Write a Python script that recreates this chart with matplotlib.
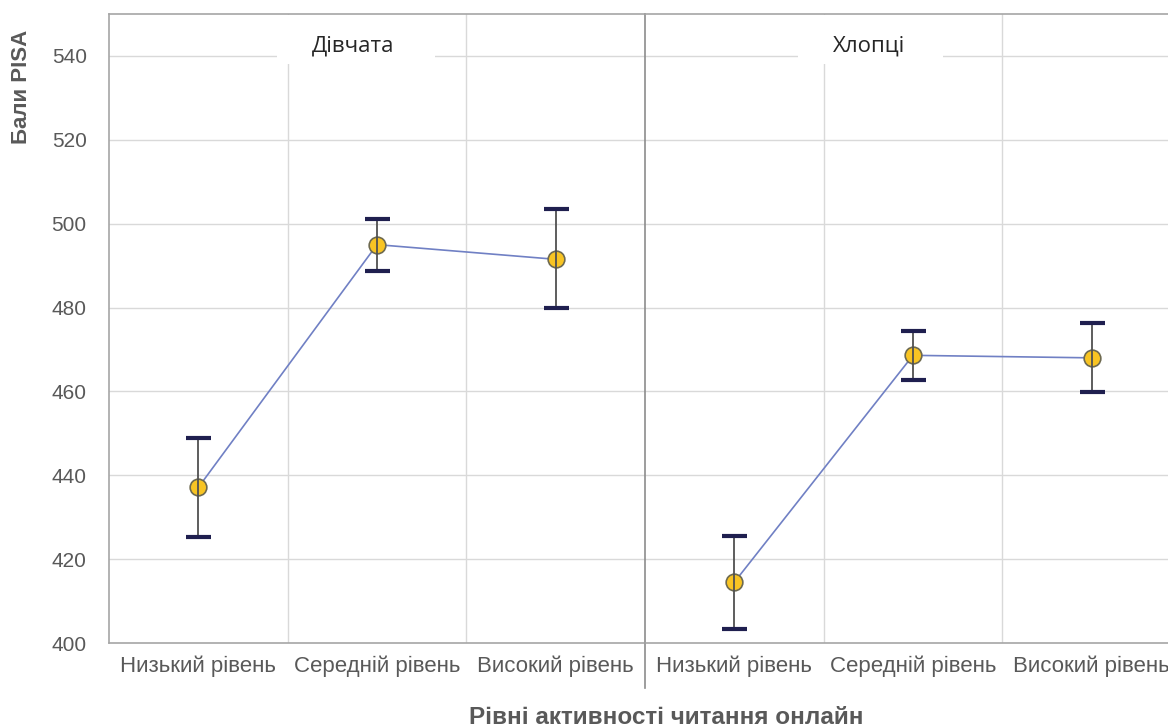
"""
PISA scores by level of online reading activity, girls vs boys
"""

import matplotlib.pyplot as plt
from matplotlib.patches import Rectangle

# Data
levels = ['Низький рівень', 'Середній рівень', 'Високий рівень']
groups = ['Дівчата', 'Хлопці']
girls_mean = [437.1, 495.0, 491.5]
girls_low = [425.2, 488.6, 480.0]
girls_high = [449.0, 501.2, 503.6]
boys_mean = [414.5, 468.6, 468.0]
boys_low = [403.4, 462.6, 459.9]
boys_high = [425.5, 474.5, 476.2]

GRID = '#d9d9d9'
SPINE = '#a6a6a6'
TEXT = '#595959'
LINE = '#7080c4'
GOLD = '#f8c423'
CAP = '#1f1f4f'

plt.rcParams['font.family'] = ['Liberation Sans', 'DejaVu Sans']

fig = plt.figure(figsize=(11.68, 7.28), dpi=100)
W, H = 1168, 728
left, right, top, bottom = 109, 1181, 14, 643
pw = (right - left) / 2
ax1 = fig.add_axes([left / W, (H - bottom) / H, pw / W, (bottom - top) / H])
ax2 = fig.add_axes([(left + pw) / W, (H - bottom) / H, pw / W, (bottom - top) / H])

# (axes, title, means, lower, upper, title x, box left, box right)
panels = [
    (ax1, groups[0], girls_mean, girls_low, girls_high, 0.866, 0.44, 1.325),
    (ax2, groups[1], boys_mean, boys_low, boys_high, 0.754, 0.356, 1.168),
]

for ax, title, mean, lo, hi, tx, bx0, bx1 in panels:
    x = list(range(len(levels)))
    ax.set_xlim(-0.5, 2.5)
    ax.set_ylim(400, 550)
    ax.set_yticks(range(400, 541, 20))
    ax.set_xticks(x)
    ax.set_xticklabels(levels, fontsize=16, color=TEXT)
    ax.tick_params(axis='both', length=0, labelcolor=TEXT)
    ax.tick_params(axis='x', pad=9, labelsize=16)
    ax.tick_params(axis='y', pad=16, labelsize=15)

    # grid: horizontal at ticks, vertical between categories
    for yv in range(420, 541, 20):
        ax.axhline(yv, color=GRID, lw=1, zorder=0)
    for xv in [0.5, 1.5]:
        ax.axvline(xv, color=GRID, lw=1, zorder=0)

    ax.spines['right'].set_visible(False)
    for s in ['left', 'top', 'bottom']:
        ax.spines[s].set_color(SPINE)
        ax.spines[s].set_linewidth(1.2)

    ax.plot(x, mean, color=LINE, lw=1.2, zorder=2)
    ax.plot(x, mean, 'o', ms=12, mfc=GOLD, mec='#6e6a50', mew=1.2, zorder=3)
    yerr = [[m - l for m, l in zip(mean, lo)], [h - m for m, h in zip(mean, hi)]]
    eb = ax.errorbar(x, mean, yerr=yerr, fmt='none', ecolor='#505050',
                     elinewidth=1.3, capsize=9, capthick=3, zorder=4)
    for cap in eb[1]:
        cap.set_markeredgecolor(CAP)

    # panel title in a white box
    ax.add_patch(Rectangle((bx0, 538.0), bx1 - bx0, 11.8, facecolor='white',
                           edgecolor='none', zorder=1))
    ax.text(tx, 542.4, title, ha='center', va='center', fontsize=16,
            color='#262626', family=['Open Sans', 'DejaVu Sans'], zorder=5)

ax2.set_yticklabels([])
ax2.spines['left'].set_color('#8c8c8c')
# divider between panels reaches below the axis
ax2.plot([0, 0], [0, -0.072], transform=ax2.transAxes, color='#8c8c8c',
         lw=1.2, clip_on=False)

fig.text(22 / W, 1 - 87 / H, 'Бали PISA', rotation=90, ha='center', va='center',
         fontsize=16, fontweight='bold', color=TEXT)
fig.text(666 / W, 1 - 717 / H, 'Рівні активності читання онлайн', ha='center',
         va='center', fontsize=17.5, fontweight='bold', color=TEXT)

fig.savefig('out.png', dpi=100)
